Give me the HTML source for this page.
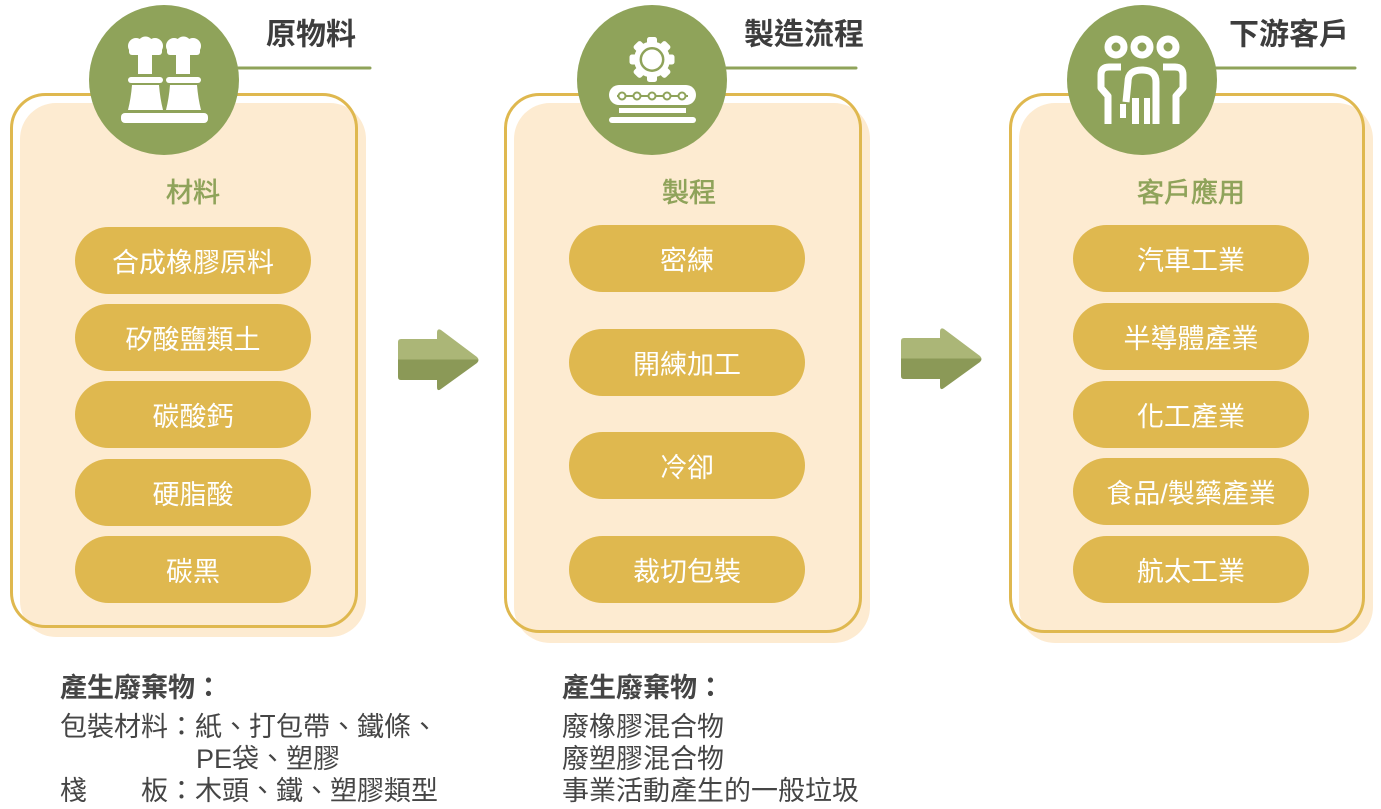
<!DOCTYPE html>
<html>
<head>
<meta charset="utf-8">
<style>
  html,body{margin:0;padding:0;background:#fff;}
  body{width:1381px;height:809px;overflow:hidden;position:relative;}
  svg{position:absolute;left:0;top:0;}
  text{font-family:"Liberation Sans","Noto Sans CJK TC","Noto Sans CJK SC",sans-serif;}
</style>
</head>
<body>
<svg width="1381" height="809" viewBox="0 0 1381 809" xmlns="http://www.w3.org/2000/svg">
  <defs>
    <linearGradient id="ag" x1="0" y1="329" x2="0" y2="390" gradientUnits="userSpaceOnUse">
      <stop offset="0" stop-color="#abb677"/>
      <stop offset="0.5" stop-color="#abb677"/>
      <stop offset="0.5" stop-color="#8b9957"/>
      <stop offset="1" stop-color="#8b9957"/>
    </linearGradient>
  </defs>

  <!-- Panel 1 -->
  <rect x="20" y="103" width="346" height="534" rx="36" fill="#fdebd1"/>
  <rect x="11.5" y="94.5" width="345" height="532" rx="34" fill="none" stroke="#dfb84f" stroke-width="3"/>
  <!-- Panel 2 -->
  <rect x="514" y="103" width="356" height="540" rx="36" fill="#fdebd1"/>
  <rect x="505.5" y="94.5" width="355" height="537" rx="34" fill="none" stroke="#dfb84f" stroke-width="3"/>
  <!-- Panel 3 -->
  <rect x="1019" y="103" width="354" height="540" rx="36" fill="#fdebd1"/>
  <rect x="1010.5" y="94.5" width="353" height="537" rx="34" fill="none" stroke="#dfb84f" stroke-width="3"/>

  <!-- Title lines -->
  <line x1="230" y1="68" x2="370" y2="68" stroke="#8fa35a" stroke-width="3" stroke-linecap="round"/>
  <line x1="720" y1="68" x2="856" y2="68" stroke="#8fa35a" stroke-width="3" stroke-linecap="round"/>
  <line x1="1210" y1="68" x2="1355" y2="68" stroke="#8fa35a" stroke-width="3" stroke-linecap="round"/>

  <!-- Circles -->
  <circle cx="164" cy="80" r="75" fill="#8fa35a"/>
  <circle cx="652" cy="80" r="75" fill="#8fa35a"/>
  <circle cx="1142" cy="80" r="75" fill="#8fa35a"/>

  <!-- Factory icon -->
  <g fill="#fff">
    <g>
      <circle cx="136" cy="46" r="8"/>
      <circle cx="145.5" cy="44.5" r="8"/>
      <circle cx="155" cy="46" r="8"/>
      <rect x="129" y="46" width="33" height="9" rx="3"/>
      <rect x="138" y="53" width="14" height="21"/>
      <rect x="128" y="77" width="35" height="6" rx="3"/>
      <path d="M132,85 H159 Q160,98 163,110 H128 Q131,98 132,85 Z"/>
    </g>
    <g transform="translate(38,0)">
      <circle cx="136" cy="46" r="8"/>
      <circle cx="145.5" cy="44.5" r="8"/>
      <circle cx="155" cy="46" r="8"/>
      <rect x="129" y="46" width="33" height="9" rx="3"/>
      <rect x="138" y="53" width="14" height="21"/>
      <rect x="128" y="77" width="35" height="6" rx="3"/>
      <path d="M132,85 H159 Q160,98 163,110 H128 Q131,98 132,85 Z"/>
    </g>
    <rect x="121" y="113" width="87" height="10" rx="4"/>
  </g>

  <!-- Gear + conveyor icon -->
  <g transform="translate(652,59.5)" fill="#fff">
    <circle r="18"/>
    <rect x="-5" y="-22.5" width="10" height="8" rx="2.5" transform="rotate(0)"/>
    <rect x="-5" y="-22.5" width="10" height="8" rx="2.5" transform="rotate(45)"/>
    <rect x="-5" y="-22.5" width="10" height="8" rx="2.5" transform="rotate(90)"/>
    <rect x="-5" y="-22.5" width="10" height="8" rx="2.5" transform="rotate(135)"/>
    <rect x="-5" y="-22.5" width="10" height="8" rx="2.5" transform="rotate(180)"/>
    <rect x="-5" y="-22.5" width="10" height="8" rx="2.5" transform="rotate(225)"/>
    <rect x="-5" y="-22.5" width="10" height="8" rx="2.5" transform="rotate(270)"/>
    <rect x="-5" y="-22.5" width="10" height="8" rx="2.5" transform="rotate(315)"/>
    <circle r="11.2" stroke="#8fa35a" stroke-width="2.5"/>
  </g>
  <rect x="609" y="85" width="87" height="20" rx="10" fill="#fff"/>
  <line x1="617" y1="96" x2="688" y2="96" stroke="#8fa35a" stroke-width="2"/>
  <g fill="#fff" stroke="#8fa35a" stroke-width="2">
    <circle cx="622" cy="96" r="3.5"/>
    <circle cx="637" cy="96" r="3.5"/>
    <circle cx="652" cy="96" r="3.5"/>
    <circle cx="667" cy="96" r="3.5"/>
    <circle cx="682" cy="96" r="3.5"/>
  </g>
  <rect x="619" y="108" width="67" height="5" fill="#fff"/>
  <rect x="609" y="117" width="87" height="6" rx="3" fill="#fff"/>

  <!-- People icon -->
  <g fill="none" stroke="#fff" stroke-width="7">
    <circle cx="1116" cy="47" r="8"/>
    <circle cx="1142" cy="47" r="8"/>
    <circle cx="1168" cy="47" r="8"/>
  </g>
  <g fill="none" stroke="#fff" stroke-width="7" stroke-linejoin="round">
    <path d="M1121,67 L1109,67 Q1101,67 1101,75 L1101,88 L1108,96 L1108,124"/>
    <path d="M1163,67 L1175,67 Q1183,67 1183,75 L1183,88 L1176,96 L1176,124"/>
    <path d="M1126,102 L1128,82 Q1128,70 1142,70 Q1156,70 1156,82 L1156,124"/>
  </g>
  <g fill="#fff">
    <rect x="1120" y="104" width="6" height="14"/>
    <rect x="1132" y="98" width="7" height="26"/>
    <rect x="1144" y="98" width="6" height="26"/>
  </g>

  <!-- Arrows -->
  <path d="M401,339 H437 V333 Q437,328 441,330 L477,357 Q480,360 477,363 L441,389 Q437,392 437,387 V380 H401 Q398,380 398,377 V342 Q398,339 401,339 Z" fill="url(#ag)"/>
  <g transform="translate(503,-1)">
    <path d="M401,339 H437 V333 Q437,328 441,330 L477,357 Q480,360 477,363 L441,389 Q437,392 437,387 V380 H401 Q398,380 398,377 V342 Q398,339 401,339 Z" fill="url(#ag)"/>
  </g>

  <!-- Titles -->
  <g font-size="30" font-weight="bold" fill="#3d3d3d" dominant-baseline="central">
    <text x="266" y="35">原物料</text>
    <text x="744" y="35">製造流程</text>
    <text x="1229" y="35">下游客戶</text>
  </g>

  <!-- Subtitles -->
  <g font-size="27" fill="#8fa35a" stroke="#8fa35a" stroke-width="0.6" text-anchor="middle" dominant-baseline="central">
    <text x="193" y="193">材料</text>
    <text x="689" y="193">製程</text>
    <text x="1191" y="193">客戶應用</text>
  </g>

  <!-- Pills -->
  <g fill="#dfb84f">
    <rect x="75" y="227" width="236" height="67" rx="33.5"/>
    <rect x="75" y="304" width="236" height="67" rx="33.5"/>
    <rect x="75" y="381" width="236" height="67" rx="33.5"/>
    <rect x="75" y="459" width="236" height="67" rx="33.5"/>
    <rect x="75" y="536" width="236" height="67" rx="33.5"/>

    <rect x="569" y="225" width="236" height="67" rx="33.5"/>
    <rect x="569" y="329" width="236" height="67" rx="33.5"/>
    <rect x="569" y="432" width="236" height="67" rx="33.5"/>
    <rect x="569" y="536" width="236" height="67" rx="33.5"/>

    <rect x="1073" y="225" width="236" height="67" rx="33.5"/>
    <rect x="1073" y="303" width="236" height="67" rx="33.5"/>
    <rect x="1073" y="381" width="236" height="67" rx="33.5"/>
    <rect x="1073" y="458" width="236" height="67" rx="33.5"/>
    <rect x="1073" y="536" width="236" height="67" rx="33.5"/>
  </g>
  <g font-size="27" fill="#ffffff" text-anchor="middle" dominant-baseline="central">
    <text x="193" y="263">合成橡膠原料</text>
    <text x="193" y="340">矽酸鹽類土</text>
    <text x="193" y="417">碳酸鈣</text>
    <text x="193" y="495">硬脂酸</text>
    <text x="193" y="572">碳黑</text>

    <text x="687" y="261">密練</text>
    <text x="687" y="365">開練加工</text>
    <text x="687" y="468">冷卻</text>
    <text x="687" y="572">裁切包裝</text>

    <text x="1191" y="261">汽車工業</text>
    <text x="1191" y="339">半導體產業</text>
    <text x="1191" y="417">化工產業</text>
    <text x="1191" y="494">食品/製藥產業</text>
    <text x="1191" y="572">航太工業</text>
  </g>

  <!-- Bottom text -->
  <g font-size="27" fill="#454545" dominant-baseline="central">
    <text x="60" y="688" font-weight="bold">產生廢棄物：</text>
    <text x="60" y="727">包裝材料：紙、打包帶、鐵條、</text>
    <text x="196" y="759">PE袋、塑膠</text>
    <text x="60" y="791">棧　　板：木頭、鐵、塑膠類型</text>

    <text x="562" y="688" font-weight="bold">產生廢棄物：</text>
    <text x="562" y="727">廢橡膠混合物</text>
    <text x="562" y="759">廢塑膠混合物</text>
    <text x="562" y="791">事業活動產生的一般垃圾</text>
  </g>
</svg>
</body>
</html>
